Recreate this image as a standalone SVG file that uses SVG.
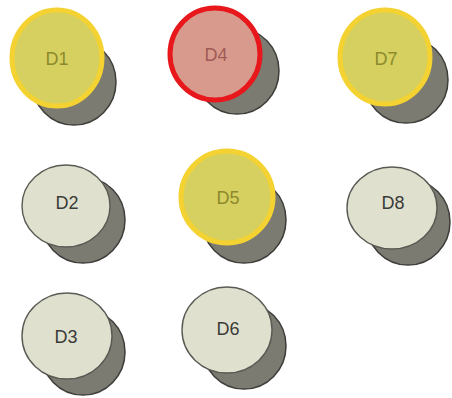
<svg xmlns="http://www.w3.org/2000/svg" width="452" height="398" viewBox="0 0 452 398">
  <style>
    .shadow { fill: #7b7b71; stroke: #3f3d3a; stroke-width: 1.5; }
    .plain { fill: #dfe1ce; stroke: #5a5a55; stroke-width: 1.4; }
    .gold { fill: #d5d05f; stroke: #f4d232; stroke-width: 5; }
    .alert { fill: #d89a8c; stroke: #e8171b; stroke-width: 5; }
    text { font-family: "Liberation Sans", Arial, sans-serif; font-size: 18px; text-anchor: middle; dominant-baseline: central; }
    .t-plain { fill: #3a3a38; }
    .t-gold { fill: #8c8a2c; }
    .t-alert { fill: #a05a56; }
  </style>
  <rect width="452" height="398" fill="#ffffff"/>
  <g id="connectors"/>

  <g id="D1">
    <ellipse class="shadow" cx="74" cy="82" rx="42" ry="43"/>
    <ellipse class="gold" cx="57" cy="58" rx="45" ry="48"/>
    <text class="t-gold" x="57" y="59">D1</text>
  </g>
  <g id="D2">
    <ellipse class="shadow" cx="83" cy="220" rx="42" ry="43"/>
    <ellipse class="plain" cx="66" cy="206" rx="44" ry="41"/>
    <text class="t-plain" x="67" y="203">D2</text>
  </g>
  <g id="D3">
    <ellipse class="shadow" cx="83" cy="352" rx="42" ry="43"/>
    <ellipse class="plain" cx="67" cy="336" rx="45" ry="43"/>
    <text class="t-plain" x="66" y="337">D3</text>
  </g>
  <g id="D4">
    <ellipse class="shadow" cx="237" cy="71" rx="42" ry="43"/>
    <ellipse class="alert" cx="215" cy="54" rx="45" ry="46"/>
    <text class="t-alert" x="216" y="55">D4</text>
  </g>
  <g id="D5">
    <ellipse class="shadow" cx="244" cy="220" rx="42" ry="43"/>
    <ellipse class="gold" cx="227" cy="197" rx="46" ry="46"/>
    <text class="t-gold" x="228" y="198">D5</text>
  </g>
  <g id="D6">
    <ellipse class="shadow" cx="244" cy="346" rx="42" ry="43"/>
    <ellipse class="plain" cx="227" cy="330" rx="45" ry="43"/>
    <text class="t-plain" x="228" y="329">D6</text>
  </g>
  <g id="D7">
    <ellipse class="shadow" cx="406" cy="80" rx="42" ry="43"/>
    <ellipse class="gold" cx="385" cy="57" rx="45" ry="47"/>
    <text class="t-gold" x="386" y="59">D7</text>
  </g>
  <g id="D8">
    <ellipse class="shadow" cx="408" cy="222" rx="42" ry="43"/>
    <ellipse class="plain" cx="392" cy="208" rx="45" ry="41"/>
    <text class="t-plain" x="393" y="203">D8</text>
  </g>
</svg>
